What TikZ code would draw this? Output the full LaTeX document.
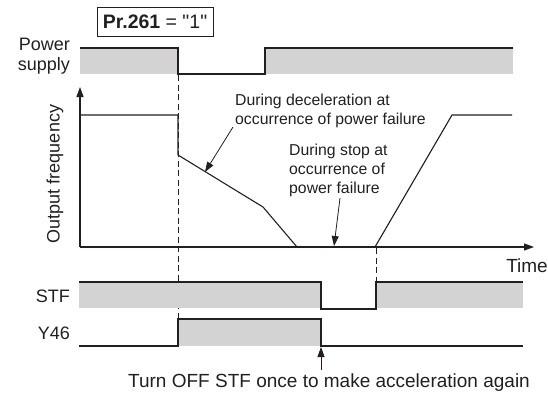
\documentclass[tikz,border=0pt]{standalone}
\usepackage{fontspec}
\setmainfont{Liberation Sans}
\newfontfamily\rawsans{Liberation Sans}
\usetikzlibrary{arrows.meta}
\definecolor{band}{RGB}{211,211,211}
\definecolor{ink}{RGB}{35,31,32}
\begin{document}
\begin{tikzpicture}[x=1pt,y=-1pt,
  sig/.style={draw=ink,line width=1.1pt,line join=miter},
  bandfill/.style={fill=band,draw=none},
  guide/.style={draw=ink,line width=0.9pt,dash pattern=on 6pt off 3.5pt},
  axisarrow/.style={draw=ink,line width=1.1pt,-{Triangle[length=10pt,width=7pt]}},
  callout/.style={draw=ink,line width=0.8pt,-{Triangle[length=10pt,width=7pt]}},
  lbl/.style={text=ink,inner sep=0pt,font=\fontsize{18}{20}\selectfont},
  note/.style={text=ink,inner sep=0pt,align=left,font=\fontsize{15.8}{19}\selectfont}]
\useasboundingbox (0,0) rectangle (548,394);

% parameter box
\node[draw=ink,line width=1pt,text=ink,inner xsep=4pt,inner ysep=3pt,minimum width=116pt,minimum height=29pt,font=\rawsans\fontsize{19.5}{21}\selectfont] (pr) at (155,21.5) {\textbf{Pr.261} = "1"};

% Power supply
\node[lbl,align=right,anchor=north east] (pwr) at (70,38) {Power\\supply};
\fill[band] (80,48) rectangle (178,74);
\fill[band] (265,48) rectangle (513,74);
\draw[sig] (80,48) -- (178,48) -- (178,74) -- (265,74) -- (265,48) -- (513,48);

% Output frequency axes
\coordinate (org) at (80,247);
\coordinate (ytip) at (80,87);
\coordinate (xtip) at (534,247);
\draw[axisarrow] (org) -- (ytip);
\draw[axisarrow] (org) -- (xtip);
\node[lbl,rotate=90] (of) at (55,174) {Output frequency};
\node[lbl,anchor=base east,font=\fontsize{19}{21}\selectfont] (time) at (548,272) {Time};

% frequency curve
\draw[sig] (80,115) -- (178,115) -- (178,155) -- (263,207) -- (297,247);
\draw[sig] (375,247) -- (452,115) -- (512,115);

% guides
\draw[guide] (178,75) -- (178,318);
\draw[guide] (376,248) -- (376,281);

% STF
\node[lbl,anchor=east] (stf) at (70,296) {STF};
\fill[band] (79,282) rectangle (321,308);
\fill[band] (376,282) rectangle (523,308);
\draw[sig] (79,282) -- (321,282) -- (321,309) -- (376,309) -- (376,282) -- (523,282);

% Y46
\node[lbl,anchor=east] (y46) at (70,333) {Y46};
\fill[band] (178,319) rectangle (321,346);
\draw[sig] (79,346) -- (178,346) -- (178,319) -- (321,319) -- (321,346) -- (523,346);

% annotations (base = baseline of last line)
\node[note,anchor=base west] (n1) at (235,124) {During deceleration at\\occurrence of power failure};
\coordinate (n1s) at (233,127);
\coordinate (n1e) at (205,172);
\draw[callout] (n1s) -- (n1e);

\node[note,anchor=base west] (n2) at (289,193) {During stop at\\occurrence of\\power failure};
\coordinate (n2s) at (340,198);
\coordinate (n2e) at (334,246);
\draw[callout] (n2s) -- (n2e);

\node[lbl,anchor=base west,font=\fontsize{19}{21}\selectfont] (turn) at (128,387) {Turn OFF STF once to make acceleration again};
\coordinate (t1) at (321,370);
\coordinate (t2) at (321,347);
\draw[callout] (t1) -- (t2);
\end{tikzpicture}
\end{document}
